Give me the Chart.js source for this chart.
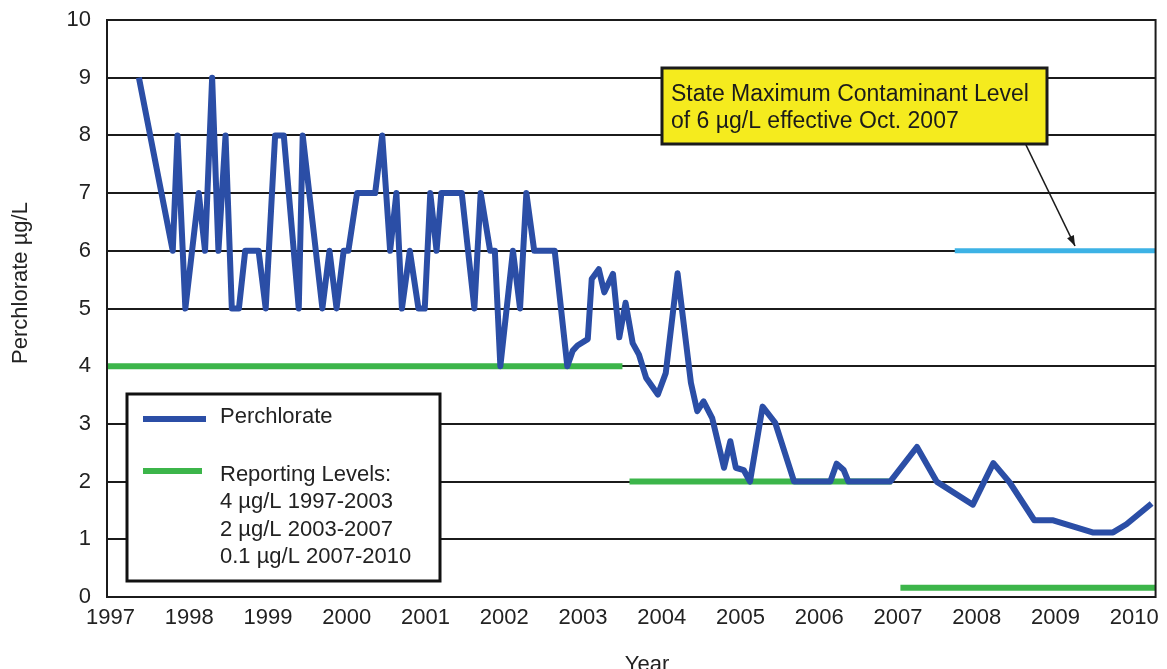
<!DOCTYPE html>
<html>
<head>
<meta charset="utf-8">
<script src="https://cdn.jsdelivr.net/npm/chart.js@4.4.1/dist/chart.umd.min.js"></script>
<style>
  html, body { margin: 0; padding: 0; background: #fff; }
  #wrap { width: 1167px; height: 669px; position: relative; }
</style>
</head>
<body>
<div id="wrap"><canvas id="perchChart"></canvas></div>
<script>
// tick labels on the x axis
const years = [1997, 1998, 1999, 2000, 2001, 2002, 2003, 2004, 2005, 2006, 2007, 2008, 2009, 2010];
const yTicks = [0, 1, 2, 3, 4, 5, 6, 7, 8, 9, 10];

// perchlorate samples (decimal year, ug/L)
const sampleDates = [
  1997.36, 1997.79, 1997.85, 1997.95, 1998.12, 1998.20, 1998.29, 1998.37, 1998.46, 1998.54,
  1998.63, 1998.71, 1998.88, 1998.97, 1999.09, 1999.20, 1999.39, 1999.44, 1999.69, 1999.78,
  1999.87, 1999.96, 2000.02, 2000.13, 2000.36, 2000.45, 2000.55, 2000.63, 2000.70, 2000.80,
  2000.91, 2000.99, 2001.06, 2001.14, 2001.20, 2001.46, 2001.62, 2001.70, 2001.82, 2001.88,
  2001.95, 2002.11, 2002.20, 2002.28, 2002.38, 2002.64, 2002.80, 2002.87, 2002.93, 2003.06,
  2003.11, 2003.20, 2003.27, 2003.38, 2003.46, 2003.54, 2003.63, 2003.71, 2003.80, 2003.95,
  2004.05, 2004.20, 2004.37, 2004.45, 2004.53, 2004.64, 2004.79, 2004.87, 2004.94, 2005.04,
  2005.12, 2005.28, 2005.44, 2005.68, 2006.14, 2006.22, 2006.31, 2006.37, 2006.90, 2007.24,
  2007.49, 2007.95, 2008.21, 2008.42, 2008.73, 2008.97, 2009.47, 2009.73, 2009.90, 2010.22
];
const perchlorate = [
  9, 6, 8, 5, 7, 6, 9, 6, 8, 5,
  5, 6, 6, 5, 8, 8, 5, 8, 5, 6,
  5, 6, 6, 7, 7, 8, 6, 7, 5, 6,
  5, 5, 7, 6, 7, 7, 5, 7, 6, 6,
  4, 6, 5, 7, 6, 6, 4, 4.27, 4.36, 4.47,
  5.51, 5.68, 5.28, 5.6, 4.5, 5.1, 4.4, 4.2, 3.8, 3.51,
  3.88, 5.61, 3.71, 3.22, 3.39, 3.1, 2.24, 2.7, 2.24, 2.2,
  2.0, 3.3, 3.02, 2.0, 2.0, 2.31, 2.2, 2.0, 2.0, 2.6,
  2.0, 1.6, 2.32, 1.98, 1.33, 1.33, 1.12, 1.12, 1.26, 1.62
];

// reporting levels (segments)
const reportStart = [1996.95, 2003.59, 2007.03];
const reportEnd = [2003.50, 2006.92, 2010.27];
const reportLevel = [4, 2, 0.16];

// state MCL line
const mclStart = 2007.72;
const mclEnd = 2010.27;
const mclLevel = 6;

const xMin = 1996.955;
const xMax = 2010.27;

const blue = '#2b4ea6';
const green = '#3cb54a';
const lightBlue = '#3db2e5';
const FONT = '"Liberation Sans", Arial, sans-serif';

const datasets = [{
  label: 'Perchlorate',
  data: sampleDates.map((d, i) => ({ x: d, y: perchlorate[i] })),
  borderColor: blue,
  borderWidth: 6,
  borderJoinStyle: 'round',
  pointRadius: 0,
  tension: 0,
  order: 0
}];
reportStart.forEach((s, i) => {
  datasets.push({
    label: 'Reporting Levels',
    data: [{ x: s, y: reportLevel[i] }, { x: reportEnd[i], y: reportLevel[i] }],
    borderColor: green,
    borderWidth: 6,
    pointRadius: 0,
    order: 2
  });
});
datasets.push({
  label: 'MCL',
  data: [{ x: mclStart, y: mclLevel }, { x: mclEnd, y: mclLevel }],
  borderColor: lightBlue,
  borderWidth: 5,
  pointRadius: 0,
  order: 1
});

const decorations = {
  id: 'decorations',
  beforeDraw(chart) {
    const c = chart.ctx;
    c.save();
    c.fillStyle = '#fff';
    c.fillRect(0, 0, chart.width, chart.height);
    c.restore();
  },
  afterDraw(chart) {
    const c = chart.ctx;
    const a = chart.chartArea;
    c.save();
    // frame
    c.strokeStyle = '#1b1b1b';
    c.lineWidth = 2;
    c.strokeRect(a.left, a.top, a.right - a.left, a.bottom - a.top);

    // axis titles
    c.fillStyle = '#222';
    c.font = '22px ' + FONT;
    c.textAlign = 'center';
    c.textBaseline = 'middle';
    c.save();
    c.translate(21, 283);
    c.rotate(-Math.PI / 2);
    c.fillText('Perchlorate µg/L', 0, 0);
    c.restore();
    c.textBaseline = 'alphabetic';
    c.fillText('Year', 647, 671);

    // legend box
    c.fillStyle = '#fff';
    c.fillRect(127, 394, 313, 187);
    c.strokeStyle = '#111';
    c.lineWidth = 3;
    c.strokeRect(127, 394, 313, 187);
    c.lineWidth = 6;
    c.strokeStyle = blue;
    c.beginPath(); c.moveTo(143, 419); c.lineTo(206, 419); c.stroke();
    c.strokeStyle = green;
    c.beginPath(); c.moveTo(143, 471); c.lineTo(202, 471); c.stroke();
    c.fillStyle = '#222';
    c.font = '22px ' + FONT;
    c.textAlign = 'left';
    c.textBaseline = 'middle';
    c.fillText('Perchlorate', 220, 417);
    ['Reporting Levels:', '4 µg/L 1997-2003', '2 µg/L 2003-2007', '0.1 µg/L 2007-2010']
      .forEach((t, i) => c.fillText(t, 220, 475 + i * 27.4));

    // annotation
    c.fillStyle = '#f5eb1e';
    c.fillRect(662, 68, 385, 76);
    c.strokeStyle = '#1b1b1b';
    c.lineWidth = 3;
    c.strokeRect(662, 68, 385, 76);
    c.fillStyle = '#1b1b1b';
    c.font = '23px ' + FONT;
    c.fillText('State Maximum Contaminant Level', 671, 95);
    c.fillText('of 6 µg/L effective Oct. 2007', 671, 122);

    // arrow
    const x0 = 1026, y0 = 145, x1 = 1075, y1 = 246;
    c.lineWidth = 1.6;
    c.beginPath(); c.moveTo(x0, y0); c.lineTo(x1, y1); c.stroke();
    const ang = Math.atan2(y1 - y0, x1 - x0);
    c.beginPath();
    c.moveTo(x1, y1);
    c.lineTo(x1 - 11 * Math.cos(ang - 0.35), y1 - 11 * Math.sin(ang - 0.35));
    c.lineTo(x1 - 11 * Math.cos(ang + 0.35), y1 - 11 * Math.sin(ang + 0.35));
    c.closePath();
    c.fill();
    c.restore();
  }
};

new Chart(document.getElementById('perchChart'), {
  type: 'line',
  data: { datasets },
  plugins: [decorations],
  options: {
    responsive: true,
    maintainAspectRatio: false,
    animation: false,
    layout: { padding: { left: 0, right: 11, top: 20, bottom: 0 } },
    plugins: { legend: { display: false }, tooltip: { enabled: false } },
    scales: {
      x: {
        type: 'linear',
        min: xMin,
        max: xMax,
        afterFit: s => { s.height = 72; },
        afterBuildTicks: s => { s.ticks = years.map(v => ({ value: v })); },
        grid: { display: false, drawTicks: false },
        border: { display: true, color: '#1b1b1b', width: 2 },
        ticks: {
          padding: 8,
          color: '#222',
          font: { family: FONT, size: 22 },
          maxRotation: 0,
          autoSkip: false,
          callback: v => String(v)
        }
      },
      y: {
        min: 0,
        max: 10,
        afterFit: s => { s.width = 107; s.paddingTop = 0; s.paddingBottom = 0; },
        afterBuildTicks: s => { s.ticks = yTicks.map(v => ({ value: v })); },
        grid: { color: '#1b1b1b', lineWidth: 2, drawTicks: false },
        border: { display: true, color: '#1b1b1b', width: 2 },
        ticks: {
          padding: 16,
          color: '#222',
          font: { family: FONT, size: 22 },
          callback: v => String(v)
        }
      }
    }
  }
});
</script>
</body>
</html>
